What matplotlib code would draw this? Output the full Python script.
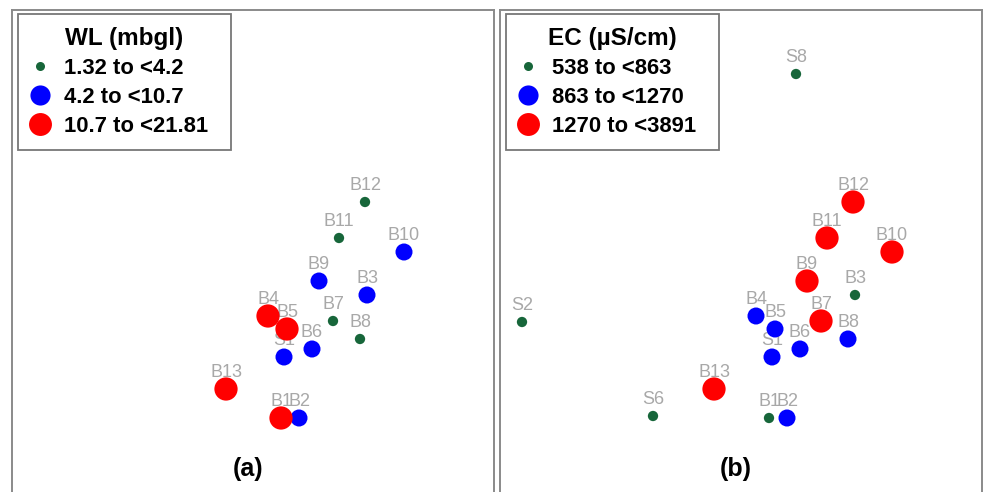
import matplotlib
matplotlib.use("Agg")
import matplotlib.pyplot as plt
from matplotlib.lines import Line2D

plt.rcParams['font.family'] = ['Liberation Sans', 'DejaVu Sans']

# ordination coordinates (unitless) of each sampling site
sites = ["B1", "B2", "B3", "B4", "B5", "B6", "B7", "B8", "B9", "B10",
         "B11", "B12", "B13", "S1", "S2", "S6", "S8"]
x = [269, 287, 355, 256, 275, 300, 321, 348, 307, 392,
     327, 353, 214, 272, 22, 153, 296]
y = [82, 82, 205, 184, 171, 151, 179, 161, 219, 248,
     262, 298, 111, 143, 178, 84, 426]

# class index per site (0 = low, 1 = mid, 2 = high, None = not measured)
wl_class = [2, 1, 1, 2, 2, 1, 0, 0, 1, 1,
            0, 0, 2, 1, None, None, None]
ec_class = [0, 1, 0, 1, 1, 1, 2, 1, 2, 2,
            2, 2, 2, 1, 0, 0, 0]

wl_title = "WL (mbgl)"
wl_labels = ["1.32 to <4.2", "4.2 to <10.7", "10.7 to <21.81"]
ec_title = "EC (µS/cm)"
ec_labels = ["538 to <863", "863 to <1270", "1270 to <3891"]
panel_tags = ["(a)", "(b)"]

colors = ["#17663a", "#0000ff", "#ff0000"]
sizes = [55, 150, 280]
legend_ms = [6.5, 14.5, 16.5]

W, H = 983, 492
fig = plt.figure(figsize=(W / 100, H / 100), dpi=100)

def make_axes(left_px):
    ax = fig.add_axes([left_px / W, (H - 500) / H, 482 / W, 490 / H])
    ax.set_xlim(0, 482)
    ax.set_ylim(0, 490)
    ax.set_xticks([])
    ax.set_yticks([])
    for s in ax.spines.values():
        s.set_color("#8a8a8a")
        s.set_linewidth(1.4)
    return ax

def draw_panel(ax, classes, title, labels, tag):
    for name, xi, yi, c in zip(sites, x, y, classes):
        if c is None:
            continue
        ax.text(xi, yi + 16.5, name, ha="center", va="center",
                fontsize=13, color="#a8a8a8", zorder=1)
    for k in range(3):
        xs = [xi for xi, c in zip(x, classes) if c == k]
        ys = [yi for yi, c in zip(y, classes) if c == k]
        ax.scatter(xs, ys, s=sizes[k], color=colors[k], edgecolors="none",
                   zorder=2)
    handles = [Line2D([], [], linestyle="none", marker="o",
                      markersize=legend_ms[k], markerfacecolor=colors[k],
                      markeredgecolor="none") for k in range(3)]
    leg = ax.legend(handles, labels, title=title, loc="upper left",
                    bbox_to_anchor=(6 / 482, 1 - 4 / 490, 213 / 482, 0.0),
                    mode="expand", borderaxespad=0, frameon=True,
                    fancybox=False, edgecolor="#555555",
                    prop={"weight": "bold", "size": 15.8},
                    title_fontproperties={"weight": "bold", "size": 17.5},
                    handlelength=0.82, handletextpad=0.68, borderpad=0.58,
                    labelspacing=0.37)
    leg.get_frame().set_linewidth(1.3)
    ax.text(236 / 482, 31 / 490, tag, transform=ax.transAxes,
            ha="center", va="center", fontsize=18, fontweight="bold")

ax_a = make_axes(12)
ax_b = make_axes(500)
draw_panel(ax_a, wl_class, wl_title, wl_labels, panel_tags[0])
draw_panel(ax_b, ec_class, ec_title, ec_labels, panel_tags[1])

fig.savefig("out.png", dpi=100)
